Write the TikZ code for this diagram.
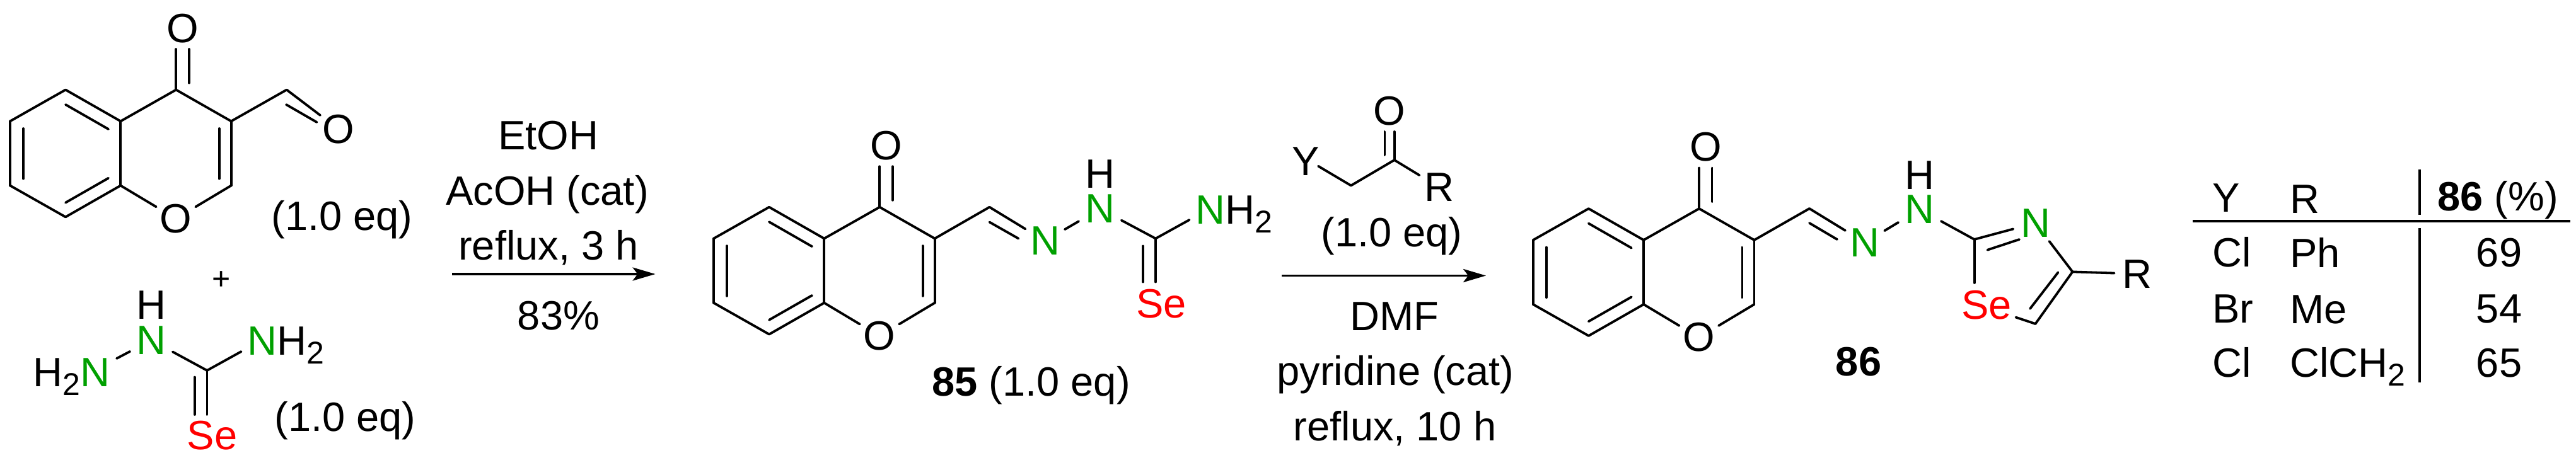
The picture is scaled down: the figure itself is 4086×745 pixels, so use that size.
\documentclass[tikz,border=0pt]{standalone}
\usepackage{fontspec}
\setmainfont{Liberation Sans}
\usetikzlibrary{arrows.meta}
\definecolor{grn}{RGB}{0,160,0}
\definecolor{sered}{RGB}{255,0,0}
\newcommand{\chemfont}{\fontsize{32.5pt}{39pt}\selectfont}
\newcommand{\subtwo}{\raisebox{-7pt}{\fontsize{25pt}{30pt}\selectfont 2}}
\newcommand{\bd}[2]{\draw[bondline] (#1) -- (#2);}
\newcommand{\chromone}[3]{%
\begin{scope}[shift={(#2,#3)}]
\coordinate (#1rt) at (104,142.5);
\coordinate (#1rla) at (16,192.4);
\coordinate (#1rlb) at (16,294.5);
\coordinate (#1rb) at (104,344.4);
\coordinate (#1rfb) at (191.3,294.5);
\coordinate (#1rfa) at (191.3,192.4);
\coordinate (#1rk) at (279.3,142.5);
\coordinate (#1rthree) at (366.7,192.4);
\coordinate (#1rtwo) at (366.7,294.5);
\coordinate (#1ria) at (104,166);
\coordinate (#1rib) at (172,205);
\coordinate (#1ric) at (37,204);
\coordinate (#1rid) at (37,283.6);
\coordinate (#1rie) at (104,321.6);
\coordinate (#1rif) at (172,282.7);
\coordinate (#1rig) at (347.6,204);
\coordinate (#1rih) at (347.6,283.6);
\coordinate (#1roa) at (279.3,78);
\coordinate (#1rob) at (299.7,78);
\coordinate (#1roc) at (299.7,131.6);
\node[atom] (#1Or) at (279,347) {O};
\node[atom] (#1Ok) at (289.5,45) {O};
\end{scope}
\bd{#1rt}{#1rla}\bd{#1rla}{#1rlb}\bd{#1rlb}{#1rb}\bd{#1rb}{#1rfb}\bd{#1rfb}{#1rfa}\bd{#1rfa}{#1rt}
\bd{#1rfa}{#1rk}\bd{#1rk}{#1rthree}\bd{#1rthree}{#1rtwo}\bd{#1rtwo}{#1Or}\bd{#1Or}{#1rfb}
\bd{#1ria}{#1rib}\bd{#1ric}{#1rid}\bd{#1rie}{#1rif}\bd{#1rig}{#1rih}
\bd{#1rk}{#1roa}\bd{#1rob}{#1roc}
}
\tikzset{
  bondline/.style={line width=1.9pt,line cap=round,line join=round,draw=black},
  atom/.style={circle,inner sep=0pt,minimum size=36pt,font=\chemfont},
  nhatom/.style={rectangle,inner ysep=0pt,inner xsep=5pt,font=\chemfont,text=grn},
  txt/.style={inner sep=0pt,font=\chemfont},
  arrowline/.style={line width=1.9pt,draw=black,-{Stealth[length=18pt,width=10.5pt,inset=4pt]}},
  ruleline/.style={line width=1.9pt,draw=black}
}
\begin{document}
\begin{tikzpicture}[x=0.5pt,y=-0.5pt]
\useasboundingbox (0,0) rectangle (4086,745);

% --- aldehyde reagent
\chromone{A}{0}{0}
\coordinate (Acho) at (454.7,142.5);
\coordinate (Achb) at (454,166);
\coordinate (Achc) at (502.5,194);
\node[atom] (AO) at (537,205) {O};
\bd{Arthree}{Acho}\bd{Acho}{AO}\bd{Achb}{Achc}
\node[txt,anchor=base] (Aeq) at (542.5,365) {(1.0 eq)};
\node[txt,font=\fontsize{25pt}{30pt}\selectfont] (plus) at (351,445) {+};

% --- selenosemicarbazide
\node[txt,anchor=base west] (Shn) at (52,613) {H\subtwo{\color{grn}N}};
\coordinate (Shne) at (185,569);
\node[nhatom] (Sn) at (240,540) {N};
\node[txt] (Sh) at (240,484.6) {H};
\coordinate (Sc) at (328.4,588);
\node[txt,anchor=base west] (Snh) at (392,563) {{\color{grn}N}H\subtwo};
\coordinate (Snhe) at (382.6,558);
\node[txt,text=sered] (Sse) at (336.7,691) {Se};
\coordinate (Ssa) at (328.4,658);
\coordinate (Ssb) at (308.7,598.6);
\coordinate (Ssc) at (308.7,658);
\bd{Shne}{Sn}\bd{Sn}{Sc}\bd{Sc}{Snhe}\bd{Sc}{Ssa}\bd{Ssb}{Ssc}
\node[txt,anchor=base] (Seq) at (547.5,684) {(1.0 eq)};

% --- first arrow
\node[txt,anchor=base] (ca) at (870,237.5) {EtOH};
\node[txt,anchor=base] (cb) at (868,325) {AcOH (cat)};
\node[txt,anchor=base] (cc) at (870,412) {reflux, 3 h};
\node[txt,anchor=base] (cd) at (886,523.5) {83\%};
\coordinate (ars) at (717,435);
\coordinate (are) at (1039.5,435);
\draw[arrowline] (ars) -- (are);

% --- compound 85
\chromone{B}{1116}{186.2}
\coordinate (Bxa) at (1569.5,328.7);
\coordinate (Bxb) at (1569.5,352.5);
\coordinate (Bxc) at (1615.4,378.6);
\node[atom,text=grn] (Bna) at (1657.5,382.4) {N};
\node[nhatom] (Bnb) at (1744.9,331.6) {N};
\node[txt] (Bh) at (1744.9,276.5) {H};
\coordinate (Bc) at (1833,378.6);
\coordinate (Bnhe) at (1886.5,349);
\node[txt,anchor=base west] (Bnh) at (1896,355) {{\color{grn}N}H\subtwo};
\node[txt,text=sered] (Bse) at (1842,482) {Se};
\coordinate (Bsa) at (1833,447.5);
\coordinate (Bsb) at (1813,390.5);
\coordinate (Bsc) at (1813,447.5);
\bd{Brthree}{Bxa}\bd{Bxa}{Bna}\bd{Bxb}{Bxc}\bd{Bna}{Bnb}\bd{Bnb}{Bc}\bd{Bc}{Bnhe}\bd{Bc}{Bsa}\bd{Bsb}{Bsc}
\node[txt,anchor=base west] (Blab) at (1478,628) {\textbf{85} (1.0 eq)};

% --- second arrow with haloketone
\node[txt] (Ky) at (2071.4,256.5) {Y};
\coordinate (Kye) at (2091,263.7);
\coordinate (Kch) at (2142.9,294.5);
\coordinate (Kco) at (2211.7,254);
\node[atom] (Kr) at (2282.5,297) {R};
\node[atom] (Ko) at (2204,176) {O};
\coordinate (Koa) at (2211.7,209);
\coordinate (Kob) at (2196.4,209);
\coordinate (Koc) at (2196.4,246);
\bd{Kye}{Kch}\bd{Kch}{Kco}\bd{Kco}{Kr}\bd{Kco}{Koa}\bd{Kob}{Koc}
\node[txt,anchor=base] (Keq) at (2207.5,391) {(1.0 eq)};
\coordinate (brs) at (2033,437.5);
\coordinate (bre) at (2357,437.5);
\draw[arrowline] (brs) -- (bre);
\node[txt,anchor=base] (da) at (2212,524) {DMF};
\node[txt,anchor=base] (db) at (2213.5,611.4) {pyridine (cat)};
\node[txt,anchor=base] (dc) at (2212.5,699) {reflux, 10 h};

% --- compound 86
\chromone{C}{2415.8}{188.6}
\coordinate (Cxa) at (2870,331);
\coordinate (Cxb) at (2870,354);
\coordinate (Cxc) at (2914,380);
\node[atom,text=grn] (Cna) at (2958,385) {N};
\node[nhatom] (Cnb) at (3045,332.5) {N};
\node[txt] (Ch) at (3045,278) {H};
\coordinate (Cta) at (3131.6,380);
\node[atom,text=grn] (Ctn) at (3228.5,354) {N};
\coordinate (Ctb) at (3152.4,396.7);
\coordinate (Ctc) at (3203,380);
\coordinate (Ctd) at (3287.4,431.4);
\coordinate (Cte) at (3228.5,514);
\coordinate (Ctf) at (3264.5,432.3);
\coordinate (Ctg) at (3220,490);
\coordinate (Cth) at (3197.4,503.6);
\coordinate (Cti) at (3131.6,449);
\node[txt,text=sered] (Cse) at (3151,484.6) {Se};
\node[atom] (Cr) at (3390,434.7) {R};
\bd{Crthree}{Cxa}\bd{Cxa}{Cna}\bd{Cxb}{Cxc}\bd{Cna}{Cnb}\bd{Cnb}{Cta}\bd{Cta}{Ctn}\bd{Ctb}{Ctc}
\bd{Ctn}{Ctd}\bd{Ctd}{Cte}\bd{Ctf}{Ctg}\bd{Cte}{Cth}\bd{Cta}{Cti}\bd{Ctd}{Cr}
\node[txt,anchor=base] (Clab) at (2948,596) {\textbf{86}};

% --- table
\coordinate (ta) at (3477.8,350.6);
\coordinate (tb) at (4076.9,350.6);
\coordinate (tc) at (3838,269.4);
\coordinate (td) at (3838,340.6);
\coordinate (te) at (3838,362);
\coordinate (tf) at (3838,607);
\draw[ruleline] (ta) -- (tb);
\draw[ruleline] (tc) -- (td);
\draw[ruleline] (te) -- (tf);
\node[txt,anchor=base west] (ty) at (3509,336) {Y};
\node[txt,anchor=base west] (tr) at (3632,338) {R};
\node[txt,anchor=base west] (tp) at (3866,334) {\textbf{86} (\%)};
\node[txt,anchor=base west] (yi) at (3509,423) {Cl};
\node[txt,anchor=base west] (ri) at (3632,424) {Ph};
\node[txt,anchor=base] (pi) at (3964,423) {69};
\node[txt,anchor=base west] (yii) at (3509,512) {Br};
\node[txt,anchor=base west] (rii) at (3632,513) {Me};
\node[txt,anchor=base] (pii) at (3964,512) {54};
\node[txt,anchor=base west] (yiii) at (3509,598.6) {Cl};
\node[txt,anchor=base west] (riii) at (3632,598.6) {ClCH\subtwo};
\node[txt,anchor=base] (piii) at (3964,598.6) {65};
\end{tikzpicture}
\end{document}
